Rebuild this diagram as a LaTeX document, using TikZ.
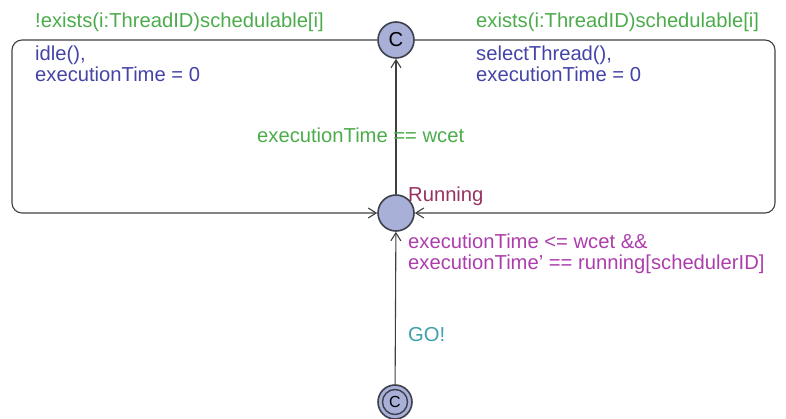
\documentclass[tikz,border=0pt]{standalone}
\usepackage{fontspec}
\setmainfont{Liberation Sans}
\usetikzlibrary{arrows.meta}

\definecolor{guardc}{RGB}{76,172,76}
\definecolor{assignc}{RGB}{68,68,168}
\definecolor{namec}{RGB}{150,50,95}
\definecolor{invc}{RGB}{172,62,172}
\definecolor{syncc}{RGB}{62,160,170}
\definecolor{locfill}{RGB}{168,176,216}
\definecolor{locline}{RGB}{62,64,76}
\definecolor{edgec}{RGB}{64,64,64}

\begin{document}
\begin{tikzpicture}[x=1pt,y=-1pt,
  every node/.style={font=\fontsize{20.2}{21}\selectfont},
  loc/.style={circle,draw=locline,fill=locfill,line width=1.6pt,minimum size=36pt,inner sep=0pt},
  edge/.style={draw=edgec,line width=1.1pt,-{Straight Barb[length=8pt,width=10pt,line width=1.1pt]}},
  lbl/.style={anchor=base west,inner sep=0pt,align=left}]
\useasboundingbox (0,0) rectangle (786,419);

% locations
\node[loc] (c) at (396,40) {C};
\node[loc] (run) at (396,213) {};
\node[loc,minimum size=34pt] (init) at (395,402) {};
\draw[locline,line width=1.4pt] (init.center) circle (12.5pt);
\node[font=\fontsize{16}{16}\selectfont] (initc) at (init.center) {C};

% corner points of the two loops
\coordinate (lt) at (12,40);
\coordinate (lb) at (12,213);
\coordinate (rt) at (775,40);
\coordinate (rb) at (775,213);

% edges
\draw[edge] (init) -- (run);
\draw[edge] (run) -- (c);
\draw[edge,rounded corners=10pt] (c) -- (lt) -- (lb) -- (run);
\draw[edge,rounded corners=10pt] (c) -- (rt) -- (rb) -- (run);

% labels (base anchor sits on the last line of a two-line label)
\node[lbl,text=guardc] (g1) at (35,28) {!exists(i:ThreadID)schedulable[i]};
\node[lbl,text=assignc] (a1) at (35,82) {idle(),\\executionTime = 0};
\node[lbl,text=guardc] (g2) at (476,28) {exists(i:ThreadID)schedulable[i]};
\node[lbl,text=assignc] (a2) at (476,82) {selectThread(),\\executionTime = 0};
\node[lbl,text=guardc] (g3) at (257,143) {executionTime == wcet};
\node[lbl,text=namec] (nm) at (408,202) {Running};
\node[lbl,text=invc] (inv) at (408,270) {executionTime <= wcet \&\&\\executionTime' == running[schedulerID]};
\node[lbl,text=syncc] (sy) at (408,341) {GO!};
\end{tikzpicture}
\end{document}
